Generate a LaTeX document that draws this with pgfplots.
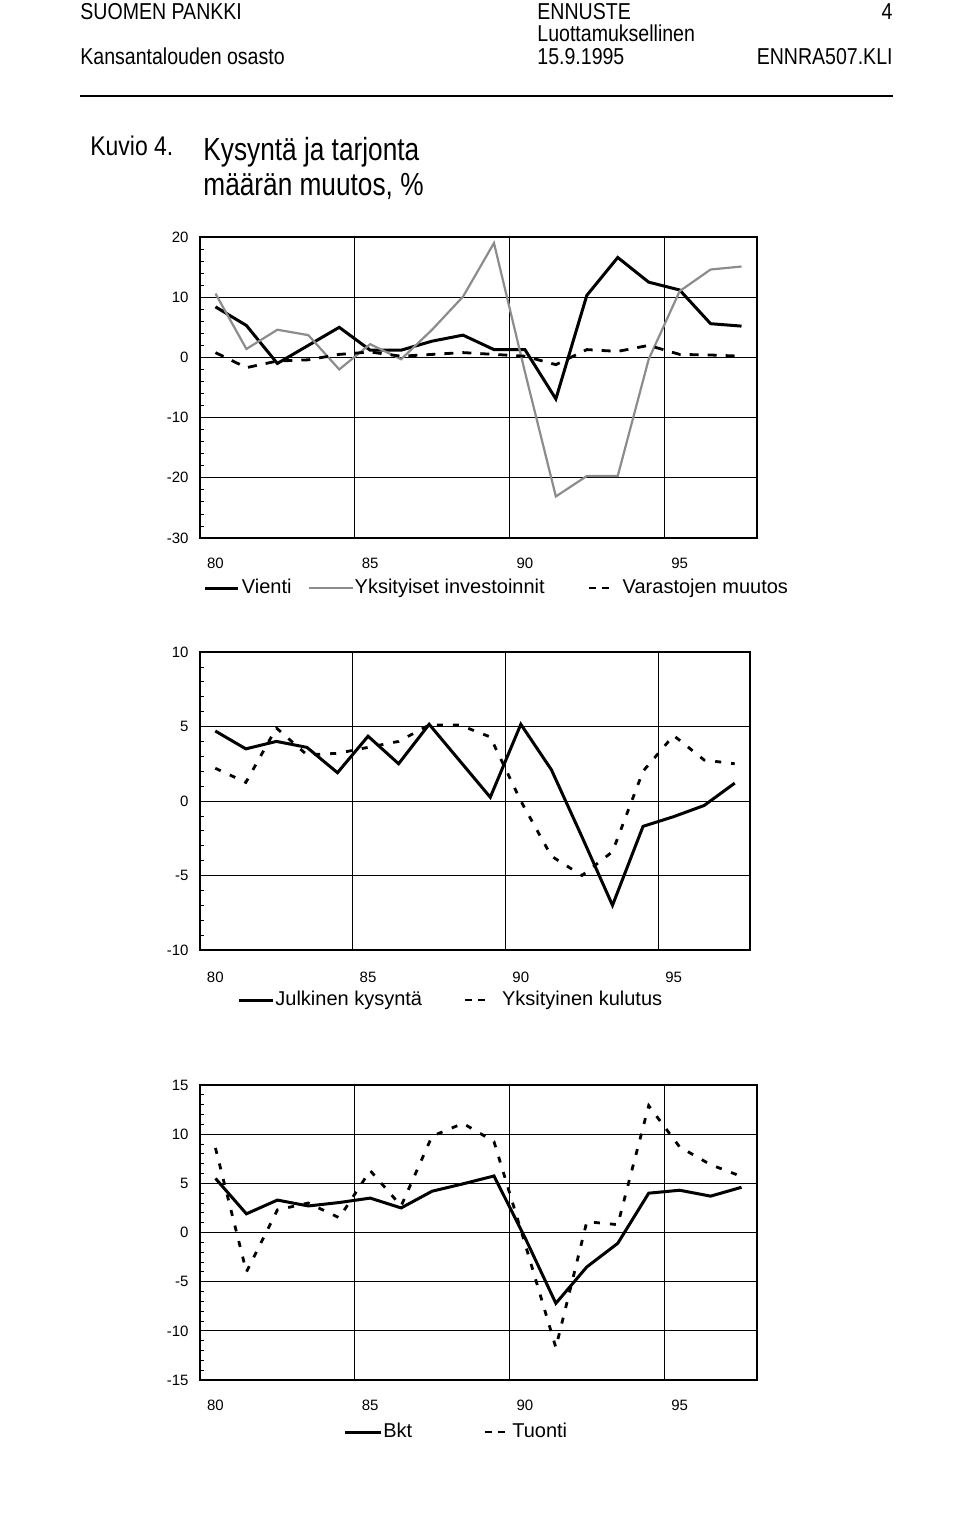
\documentclass[border=0pt]{standalone}
\usepackage{fontspec}
\setmainfont{Liberation Sans}
\newfontfamily\narrowfont[FakeStretch=0.85]{Liberation Sans}
\newfontfamily\titlefont[FakeStretch=0.82]{Liberation Sans}
\usepackage{pgfplots}
\usepackage{pgfplotstable}
\pgfplotsset{compat=1.18}

% Kuvio 4: kysyntä ja tarjonta, määrän muutos %
\pgfplotstableread{
year vienti inv var
80 8.4 10.6 0.8
81 5.3 1.4 -1.7
82 -1.0 4.6 -0.6
83 2.0 3.7 -0.4
84 5.0 -2.0 0.5
85 1.2 2.2 0.9
86 1.2 -0.3 0.2
87 2.7 4.6 0.5
88 3.7 10.1 0.8
89 1.3 19.0 0.5
90 1.3 -2.4 0.2
91 -6.9 -23.1 -1.2
92 10.3 -19.7 1.3
93 16.6 -19.7 1.0
94 12.5 -0.3 2.0
95 11.2 11.0 0.5
96 5.6 14.6 0.4
97 5.2 15.1 0.2
}\paneeliA

\pgfplotstableread{
year julk kulutus
80 4.7 2.2
81 3.5 1.25
82 4.0 4.9
83 3.6 3.1
84 1.9 3.2
85 4.35 3.6
86 2.5 4.0
87 5.15 5.1
88 2.7 5.1
89 0.25 4.3
90 5.15 0.0
91 2.1 -3.7
92 -2.4 -5.0
93 -7.0 -3.4
94 -1.7 2.0
95 -1.05 4.4
96 -0.3 2.75
97 1.2 2.5
}\paneeliB

\pgfplotstableread{
year bkt tuonti
80 5.5 8.6
81 1.9 -4.0
82 3.3 2.3
83 2.7 3.0
84 3.05 1.5
85 3.5 6.3
86 2.5 2.7
87 4.2 9.8
88 4.95 11.1
89 5.75 9.25
90 -0.5 -1.1
91 -7.2 -11.7
92 -3.5 1.1
93 -1.1 0.8
94 4.0 12.9
95 4.3 8.7
96 3.7 6.9
97 4.6 5.7
}\paneeliC

\pgfplotsset{
  legline/.style n args={3}{legend image code/.code={%
    \path[draw=none] (0pt,0pt) -- (#3,0pt); \draw[##1] (#1,0pt) -- (#2,0pt);}},
  legdash/.style n args={3}{legend image code/.code={%
    \path[draw=none] (0pt,0pt) -- (#3,0pt); \draw[##1, dash pattern=on 3.5pt off 3pt] (#1,0pt) -- (#2,0pt);}},
  kuvio/.style={
    scale only axis,
    xmin=79.5, xmax=97.5,
    xtick={80,85,90,95},
    xticklabels={80,85,90,95},
    xtick style={draw=none},
    extra x ticks={84.5,89.5,94.5},
    extra x tick labels={},
    extra x tick style={grid=major, major tick length=0pt},
    ymajorgrids,
    ytick pos=left,
    tick align=inside,
    minor y tick num=4,
    minor tick length=2.2pt,
    major tick length=2.2pt,
    tick style={black, line width=0.4pt},
    grid style={black, line width=0.45pt},
    axis line style={black, line width=0.7pt},
    ticklabel style={font=\fontsize{7.5}{8.5}\selectfont},
    yticklabel style={xshift=-2.2pt},
    legend cell align=left,
    legend style={draw=none, fill=none, inner sep=0pt,
      font=\fontsize{10}{12}\selectfont, legend columns=-1,
      at={(0,0)}, anchor=west, nodes={inner sep=0.5pt}},
  }
}

\begin{document}
\begin{tikzpicture}
\useasboundingbox (0,0) rectangle (480pt,-766pt);

\begin{scope}[every node/.style={inner sep=0pt}]
  \node[anchor=base west, font=\narrowfont\fontsize{11.5}{13}\selectfont] at (40pt,-9.5pt) {SUOMEN PANKKI};
  \node[anchor=base west, font=\narrowfont\fontsize{11.5}{13}\selectfont] at (268.5pt,-9.5pt) {ENNUSTE};
  \node[anchor=base east, font=\narrowfont\fontsize{11.5}{13}\selectfont] at (446.5pt,-9.5pt) {4};
  \node[anchor=base west, font=\narrowfont\fontsize{11.5}{13}\selectfont] at (268.5pt,-20.5pt) {Luottamuksellinen};
  \node[anchor=base west, font=\narrowfont\fontsize{11.5}{13}\selectfont] at (40pt,-32pt) {Kansantalouden osasto};
  \node[anchor=base west, font=\narrowfont\fontsize{11.5}{13}\selectfont] at (268.5pt,-32pt) {15.9.1995};
  \node[anchor=base east, font=\narrowfont\fontsize{11.5}{13}\selectfont] at (446.5pt,-32pt) {ENNRA507.KLI};
  \draw[line width=1pt] (40pt,-48pt) -- (446.5pt,-48pt);
  \node[anchor=base west, font=\narrowfont\fontsize{13.5}{15}\selectfont] at (45pt,-77.5pt) {Kuvio 4.};
  \node[anchor=base west, font=\titlefont\fontsize{16}{19}\selectfont] at (101.5pt,-80pt) {Kysyntä ja tarjonta};
  \node[anchor=base west, font=\titlefont\fontsize{16}{19}\selectfont] at (101.5pt,-97.5pt) {määrän muutos, \%};
\end{scope}

% Paneeli 1
\begin{axis}[kuvio,
  at={(100pt,-269pt)}, anchor=south west,
  width=278.5pt, height=150.5pt,
  ymin=-30, ymax=20,
  ytick={-30,-20,-10,0,10,20},
  yticklabels={-30,-20,-10,0,10,20},
  xticklabel style={yshift=-6.5pt},
  legend style={xshift=1.5pt, yshift=-25pt},
]
\addplot[black, line width=1.5pt, legline={0pt}{16.5pt}{18pt}]
  table[x=year, y=vienti] {\paneeliA};
\addlegendentry{Vienti}
\addplot[black!45, line width=1.1pt, legline={8pt}{30pt}{30pt}]
  table[x=year, y=inv] {\paneeliA};
\addlegendentry{Yksityiset investoinnit}
\addplot[black, line width=1.4pt, dash pattern=on 4.5pt off 4.5pt, legdash={21.5pt}{31.5pt}{38pt}]
  table[x=year, y=var] {\paneeliA};
\addlegendentry{Varastojen muutos}
\end{axis}

% Paneeli 2
\begin{axis}[kuvio,
  at={(100pt,-475pt)}, anchor=south west,
  width=275pt, height=149pt,
  ymin=-10, ymax=10,
  ytick={-10,-5,0,5,10},
  yticklabels={-10,-5,0,5,10},
  xticklabel style={yshift=-7.5pt},
  legend style={xshift=18.5pt, yshift=-25pt},
]
\addplot[black, line width=1.5pt, legline={0pt}{17pt}{17pt}]
  table[x=year, y=julk] {\paneeliB};
\addlegendentry{Julkinen kysyntä}
\addplot[black, line width=1.4pt, dash pattern=on 3pt off 5pt, legdash={21pt}{32pt}{39pt}]
  table[x=year, y=kulutus] {\paneeliB};
\addlegendentry{Yksityinen kulutus}
\end{axis}

% Paneeli 3
\begin{axis}[kuvio,
  at={(100pt,-690pt)}, anchor=south west,
  width=278.5pt, height=147.5pt,
  ymin=-15, ymax=15,
  ytick={-15,-10,-5,0,5,10,15},
  yticklabels={-15,-10,-5,0,5,10,15},
  xticklabel style={yshift=-6.5pt},
  legend style={xshift=71.5pt, yshift=-26pt},
]
\addplot[black, line width=1.5pt, legline={0pt}{18pt}{18.5pt}]
  table[x=year, y=bkt] {\paneeliC};
\addlegendentry{Bkt}
\addplot[black, line width=1.4pt, dash pattern=on 3pt off 5pt, legdash={36pt}{46pt}{49pt}]
  table[x=year, y=tuonti] {\paneeliC};
\addlegendentry{Tuonti}
\end{axis}
\end{tikzpicture}
\end{document}
